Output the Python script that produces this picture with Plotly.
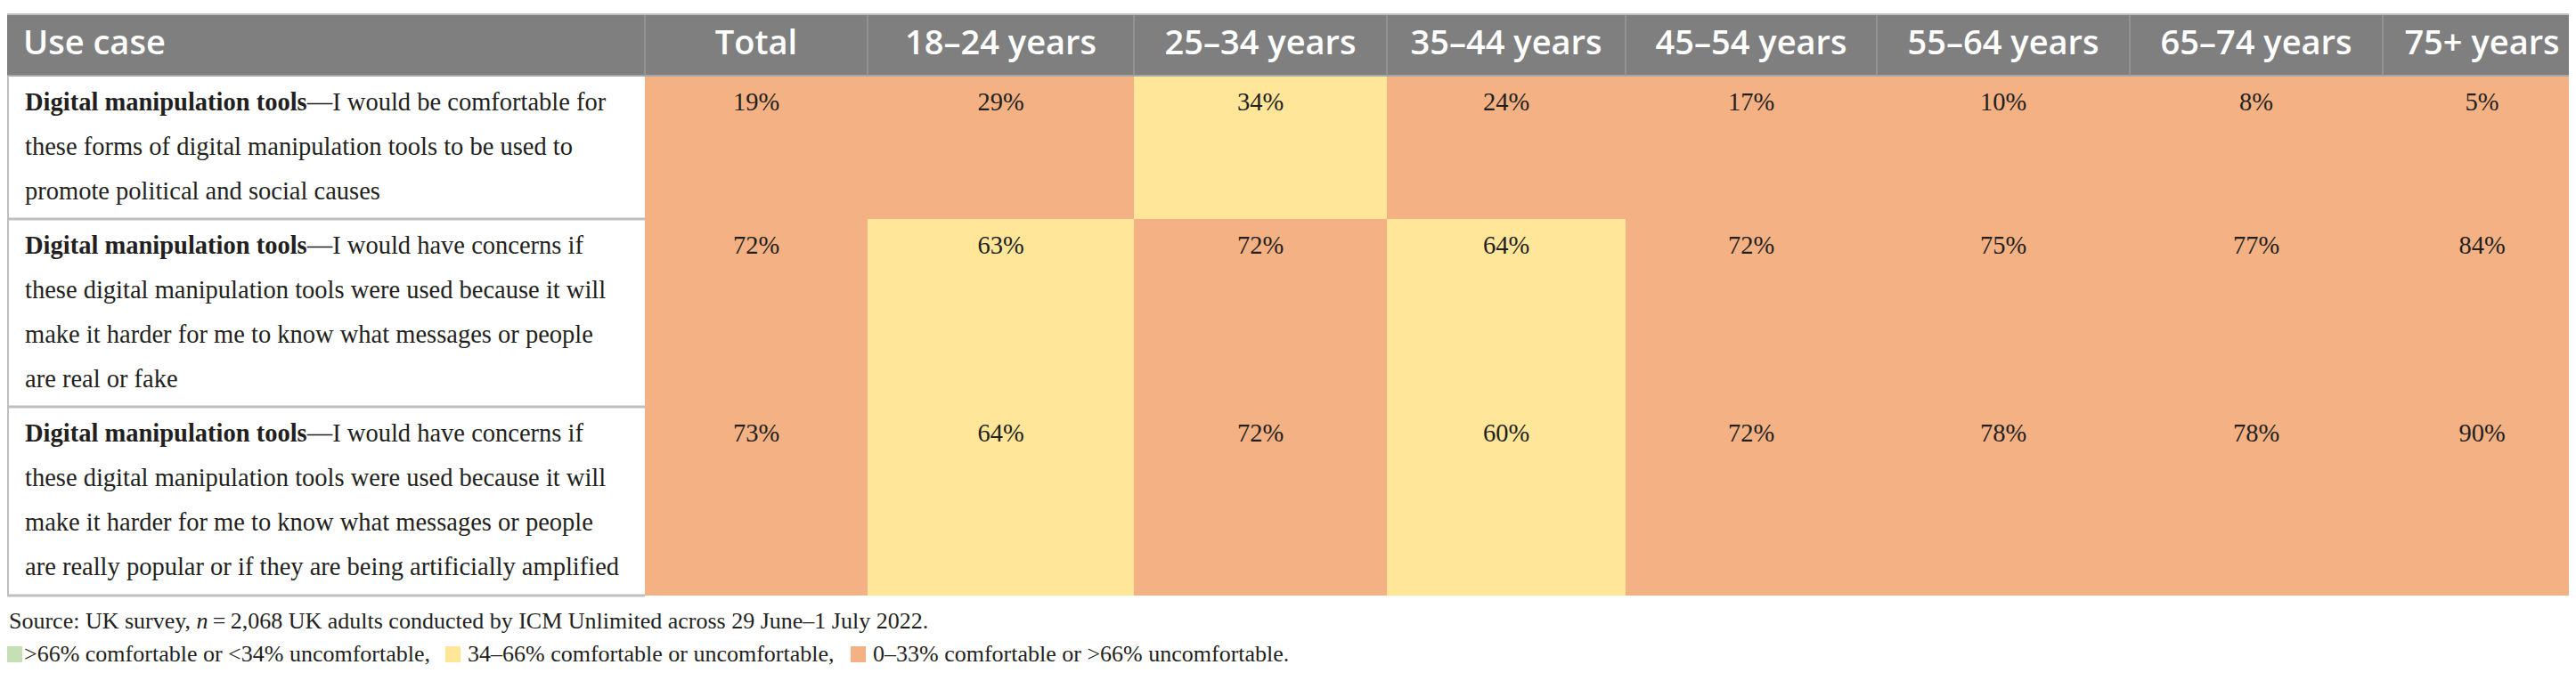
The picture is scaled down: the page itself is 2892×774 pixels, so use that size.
import plotly.graph_objects as go

# ---- data ----
COLUMNS = ["Total", "18–24 years", "25–34 years", "35–44 years", "45–54 years",
           "55–64 years", "65–74 years", "75+ years"]

ROW_LEAD = "Digital manipulation tools"
ROW_LINES = [
    ["—I would be comfortable for",
     "these forms of digital manipulation tools to be used to",
     "promote political and social causes"],
    ["—I would have concerns if",
     "these digital manipulation tools were used because it will",
     "make it harder for me to know what messages or people",
     "are real or fake"],
    ["—I would have concerns if",
     "these digital manipulation tools were used because it will",
     "make it harder for me to know what messages or people",
     "are really popular or if they are being artificially amplified"],
]
ROW_MEASURE = ["comfortable", "uncomfortable", "uncomfortable"]

comfortable_promote = [19, 29, 34, 24, 17, 10, 8, 5]
concern_real_fake = [72, 63, 72, 64, 72, 75, 77, 84]
concern_amplified = [73, 64, 72, 60, 72, 78, 78, 90]
VALUES = [comfortable_promote, concern_real_fake, concern_amplified]

SOURCE = ("Source: UK survey, <i>n</i>\u2009=\u20092,068 UK adults conducted by ICM Unlimited "
          "across 29 June–1 July 2022.")
LEGEND_TEXT = [">66% comfortable or <34% uncomfortable,",
               "34–66% comfortable or uncomfortable,",
               "0–33% comfortable or >66% uncomfortable."]

# ---- styles / layout ----
W, H = 2892, 774
GREEN, YELLOW, ORANGE = "#C5E0B4", "#FFE699", "#F4B183"
HEAD_BG = "#7F7F7F"
BORDER = "#BFBFBF"
SERIF = "Liberation Serif"
SANS = "Open Sans"
TXT = "#231F20"

col_edges = [0, 716, 966, 1265, 1549, 1817, 2099, 2383, 2667, 2890]
head_top, head_bot = 9, 77
row_edges = [77, 238, 449, 661]
first_line = 32
line_gap = 50
note_y = [689, 726]
key_x = [0, 492, 947]      # left edge of each colour key box
key_w, key_h = 17, 18


def colour_class(v, measure):
    # 0 green, 1 yellow, 2 orange
    good = v if measure == "comfortable" else 100 - v
    if good > 66:
        return 0
    if good >= 34:
        return 1
    return 2


z = [[colour_class(v, m) for v in vals] for vals, m in zip(VALUES, ROW_MEASURE)]
col_mid = [(a + b) / 2 for a, b in zip(col_edges[1:-1], col_edges[2:])]

fig = go.Figure()

# coloured value cells
fig.add_trace(go.Heatmap(
    x=col_edges[1:], y=row_edges, z=z, zmin=0, zmax=2,
    colorscale=[[0, GREEN], [1 / 3, GREEN], [1 / 3, YELLOW], [2 / 3, YELLOW],
                [2 / 3, ORANGE], [1, ORANGE]],
    showscale=False, hoverinfo="skip", xgap=0, ygap=0,
))

# percentages
px, py, pt = [], [], []
for r, vals in enumerate(VALUES):
    for c, v in enumerate(vals):
        px.append(col_mid[c])
        py.append(row_edges[r] + first_line)
        pt.append(f"{v}%")
fig.add_trace(go.Scatter(x=px, y=py, text=pt, mode="text", textposition="middle center",
                         textfont=dict(family=SERIF, size=28.5, color=TXT),
                         hoverinfo="skip", showlegend=False))

# use case texts
ux, uy, ut = [], [], []
for r, lines in enumerate(ROW_LINES):
    for i, line in enumerate(lines):
        ux.append(20)
        uy.append(row_edges[r] + first_line + i * line_gap)
        ut.append(f"<b>{ROW_LEAD}</b>{line}" if i == 0 else line)
fig.add_trace(go.Scatter(x=ux, y=uy, text=ut, mode="text", textposition="middle right",
                         textfont=dict(family=SERIF, size=28.5, color=TXT),
                         hoverinfo="skip", showlegend=False))

# header
shapes = [
    dict(type="rect", x0=0, x1=col_edges[-1], y0=head_top, y1=head_bot,
         fillcolor=HEAD_BG, line_width=0, layer="below"),
    dict(type="line", x0=0, x1=col_edges[-1], y0=head_top - 1, y1=head_top - 1,
         line=dict(color=BORDER, width=2)),
    dict(type="line", x0=0, x1=col_edges[-1], y0=head_bot, y1=head_bot,
         line=dict(color="#A6A6A6", width=2)),
]
for xe in col_edges[1:-1]:
    shapes.append(dict(type="line", x0=xe, x1=xe, y0=head_top, y1=head_bot,
                       line=dict(color="#999999", width=1.5)))
# first column borders
shapes.append(dict(type="line", x0=1, x1=1, y0=head_bot, y1=row_edges[-1],
                   line=dict(color=BORDER, width=2)))
for ye in row_edges[1:]:
    shapes.append(dict(type="line", x0=0, x1=col_edges[1], y0=ye, y1=ye,
                       line=dict(color=BORDER, width=3)))

hx = [18] + col_mid
hy = [(head_top + head_bot) / 2] * len(hx)
head_font = dict(family=SANS, size=38, color="white", weight=600)
fig.add_trace(go.Scatter(x=hx[:1], y=hy[:1], text=["Use case"], mode="text",
                         textposition="middle right", textfont=head_font,
                         hoverinfo="skip", showlegend=False))
fig.add_trace(go.Scatter(x=hx[1:], y=hy[1:], text=COLUMNS, mode="text",
                         textposition="middle center", textfont=head_font,
                         hoverinfo="skip", showlegend=False))

# footnotes
note_font = dict(family=SERIF, size=26, color=TXT)
annotations = [dict(x=0, y=note_y[0], text=SOURCE, showarrow=False, xanchor="left",
                    yanchor="middle", font=note_font)]
for kx, colour, label in zip(key_x, [GREEN, YELLOW, ORANGE], LEGEND_TEXT):
    shapes.append(dict(type="rect", x0=kx, x1=kx + key_w,
                       y0=note_y[1] - key_h / 2 + 1, y1=note_y[1] + key_h / 2 + 1,
                       fillcolor=colour, line_width=0))
    annotations.append(dict(x=kx + key_w + (0 if kx == 0 else 6), y=note_y[1], text=label,
                            showarrow=False, xanchor="left", yanchor="middle",
                            font=note_font))

fig.update_layout(
    width=W, height=H, margin=dict(l=0, r=0, t=0, b=0),
    paper_bgcolor="white", plot_bgcolor="white",
    xaxis=dict(range=[0, W], visible=False, fixedrange=True),
    yaxis=dict(range=[H, 0], visible=False, fixedrange=True),
    shapes=shapes, annotations=annotations, showlegend=False,
)

fig.write_html("out.html")
